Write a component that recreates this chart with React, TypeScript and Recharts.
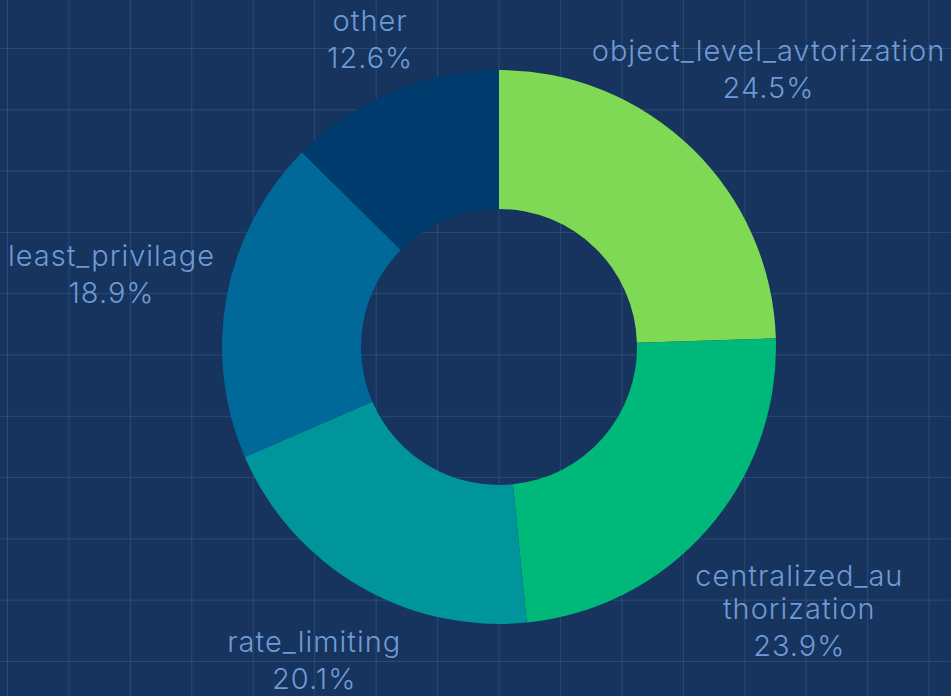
import { PieChart, Pie, Cell } from 'recharts'

// slices, clockwise from 12 o'clock
const names = [
  'object_level_avtorization',
  'centralized_authorization',
  'rate_limiting',
  'least_privilage',
  'other',
]
const shares = [24.5, 23.9, 20.1, 18.9, 12.6]
const colors = ['#80d955', '#00b87a', '#00959a', '#00699a', '#003c6e']

const data = names.map((name, i) => ({ name, value: shares[i] }))

const W = 951
const H = 696
const LABEL_COLOR = '#6e9ad6'
const FONT = 29
const CHAR_W = 14.2

// split long names into chunks (only lower-right labels wrap in the original)
function wrap(text: string, max: number) {
  if (text.length <= max) return [text]
  const out: string[] = []
  for (let i = 0; i < text.length; i += max) out.push(text.slice(i, i + max))
  return out
}

function SliceLabel(props: any) {
  const { cx, cy, midAngle, name, value } = props
  const rad = (midAngle * Math.PI) / 180
  const ux = Math.cos(rad)
  const uy = -Math.sin(rad)

  const lines = wrap(name, midAngle < 0 && midAngle > -90 ? 14 : 40)
  const longest = Math.max(...lines.map((l) => l.length), 5)
  const halfW = (longest * CHAR_W) / 2
  const nameGap = 33
  const pctGap = 37
  const cap = 21
  const halfH = ((lines.length - 1) * nameGap + pctGap + cap) / 2

  // label centre sits on the mid-angle ray, pushed out by the box size
  let r = 287 + halfW * Math.abs(ux) + 1.25 * halfH * Math.abs(uy)
  // pull back along the ray if it would run off the side
  if (Math.abs(ux) > 1e-6) {
    const maxR = (ux > 0 ? W - 5 - halfW - cx : cx - 5 - halfW) / Math.abs(ux)
    if (r > maxR && maxR > 0) r = maxR
  }
  const x = cx + r * ux
  let yc = cy + r * uy
  // keep the last line inside the bottom edge
  if (yc + halfH > H - 7) yc = H - 7 - halfH
  const firstBase = yc - halfH + cap

  const textProps = {
    x,
    textAnchor: 'middle' as const,
    fill: LABEL_COLOR,
    fontSize: FONT,
    fontFamily: 'Inter, sans-serif',
    fontWeight: 300,
    letterSpacing: 1,
  }

  return (
    <g>
      {lines.map((l, i) => (
        <text key={i} {...textProps} y={firstBase + i * nameGap}>
          {l}
        </text>
      ))}
      <text {...textProps} y={firstBase + (lines.length - 1) * nameGap + pctGap}>
        {value.toFixed(1)}%
      </text>
    </g>
  )
}

export default function App() {
  return (
    <div
      style={{
        position: 'fixed',
        left: 0,
        top: 0,
        width: W,
        height: H,
        backgroundColor: '#16345d',
        backgroundImage:
          'linear-gradient(to right, rgba(120,155,205,0.2) 1px, transparent 1px), linear-gradient(to bottom, rgba(120,155,205,0.2) 1px, transparent 1px)',
        backgroundSize: '61.45px 61.3px',
        backgroundPosition: '7px 48px',
      }}
    >
      <PieChart width={W} height={H} margin={{ top: 0, right: 0, bottom: 0, left: 0 }}>
        <Pie
          data={data}
          dataKey="value"
          nameKey="name"
          cx={499}
          cy={347}
          innerRadius={138}
          outerRadius={277}
          startAngle={90}
          endAngle={-270}
          stroke="none"
          label={SliceLabel}
          labelLine={false}
          isAnimationActive={false}
        >
          {data.map((d, i) => (
            <Cell key={d.name} fill={colors[i]} />
          ))}
        </Pie>
      </PieChart>
    </div>
  )
}
